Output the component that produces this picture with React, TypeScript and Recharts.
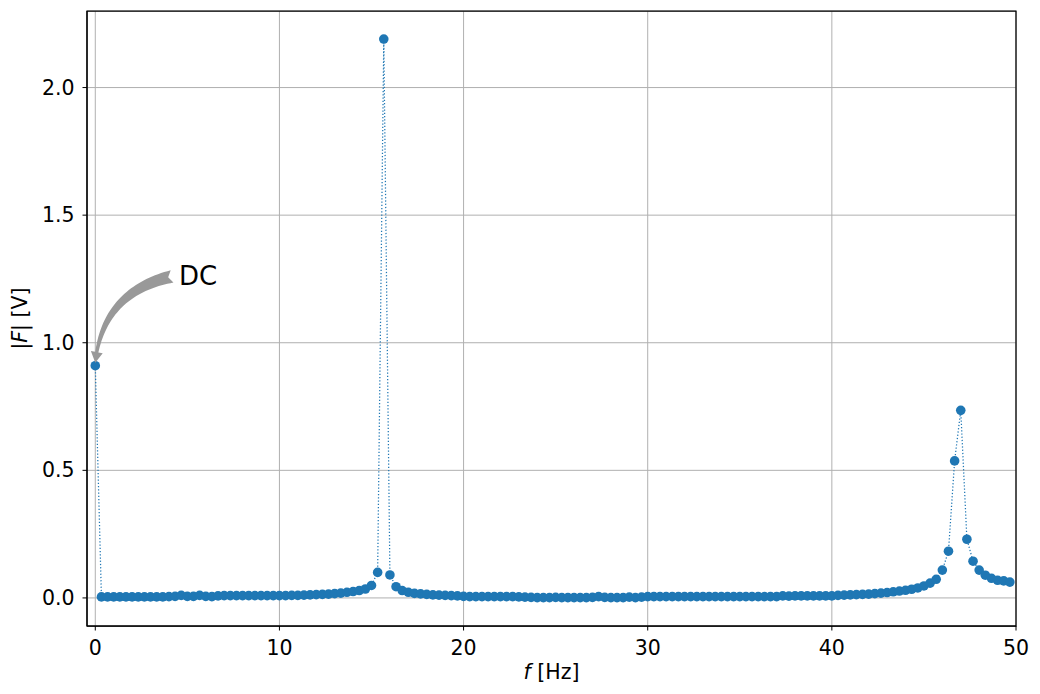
import { CartesianGrid, Line, LineChart, ReferenceArea, ReferenceDot, XAxis, YAxis } from "recharts";

// FFT magnitude spectrum, bins spaced 1/3 Hz (0 .. 49.67 Hz)
const BIN_HZ = 1 / 3;
const MAGNITUDE = [
  0.91, 0.004, 0.004, 0.004, 0.004, 0.004, 0.004, 0.004, 0.004, 0.004,
  0.004, 0.004, 0.005, 0.006, 0.01, 0.006, 0.006, 0.01, 0.006, 0.005,
  0.008, 0.009, 0.009, 0.009, 0.009, 0.009, 0.009, 0.009, 0.009, 0.009,
  0.009, 0.009, 0.01, 0.01, 0.011, 0.012, 0.013, 0.014, 0.015, 0.017,
  0.019, 0.022, 0.025, 0.029, 0.035, 0.049, 0.1, 2.19, 0.09, 0.044,
  0.029, 0.022, 0.018, 0.016, 0.014, 0.012, 0.011, 0.01, 0.009, 0.008,
  0.006, 0.005, 0.005, 0.005, 0.005, 0.005, 0.005, 0.005, 0.005, 0.004,
  0.003, 0.002, 0.001, 0.001, 0.001, 0.002, 0.001, 0.001, 0.001, 0.001,
  0.001, 0.002, 0.005, 0.002, 0.001, 0.001, 0.001, 0.003, 0.001, 0.003,
  0.005, 0.005, 0.005, 0.005, 0.005, 0.005, 0.005, 0.005, 0.005, 0.005,
  0.005, 0.005, 0.005, 0.005, 0.005, 0.005, 0.005, 0.005, 0.005, 0.005,
  0.005, 0.005, 0.008, 0.007, 0.008, 0.008, 0.008, 0.008, 0.008, 0.008,
  0.008, 0.01, 0.011, 0.012, 0.013, 0.014, 0.015, 0.017, 0.019, 0.021,
  0.024, 0.027, 0.03, 0.034, 0.039, 0.047, 0.058, 0.073, 0.109, 0.183,
  0.537, 0.735, 0.23, 0.144, 0.109, 0.089, 0.077, 0.069, 0.067, 0.062,
];
const X_TICKS = [0, 10, 20, 30, 40, 50];
const Y_TICKS = [0, 0.5, 1, 1.5, 2];
const X_DOMAIN = [-0.45, 50];
const Y_DOMAIN = [-0.11, 2.3];

// annotation: "DC" text position (data coords) pointing at the first bin
const DC_TEXT = { x: 4.55, y: 1.26, label: "DC" };

const data = MAGNITUDE.map((m, i) => ({ f: i * BIN_HZ, mag: m }));

const W = 1040;
const H = 694;
const MARGIN = { top: 11, right: 24, bottom: 0, left: 8 };
const Y_AXIS_W = 79;
const X_AXIS_H = 68;
const PLOT = {
  left: MARGIN.left + Y_AXIS_W,
  right: W - MARGIN.right,
  top: MARGIN.top,
  bottom: H - X_AXIS_H,
};
const BLUE = "#1f77b4";
const FONT = "'DejaVu Sans', sans-serif";
const TICK_FS = 20.5;

const px = (x: number) => PLOT.left + ((x - X_DOMAIN[0]) / (X_DOMAIN[1] - X_DOMAIN[0])) * (PLOT.right - PLOT.left);
const py = (y: number) => PLOT.bottom - ((y - Y_DOMAIN[0]) / (Y_DOMAIN[1] - Y_DOMAIN[0])) * (PLOT.bottom - PLOT.top);

function DcAnnotation() {
  const tx = px(DC_TEXT.x);
  const ty = py(DC_TEXT.y);
  const T = { x: tx - 7, y: ty };
  const dotX = px(data[0].f);
  const dotY = py(data[0].mag);
  const rad = 0.36;
  // curved (arc3-like) centre line
  const Hd = { x: dotX, y: dotY - 3 };
  const M = { x: (T.x + Hd.x) / 2, y: (T.y + Hd.y) / 2 };
  const d = { x: Hd.x - T.x, y: Hd.y - T.y };
  const C = { x: M.x - rad * d.y, y: M.y + rad * d.x };
  const pt = (t: number) => ({
    x: (1 - t) * (1 - t) * T.x + 2 * t * (1 - t) * C.x + t * t * Hd.x,
    y: (1 - t) * (1 - t) * T.y + 2 * t * (1 - t) * C.y + t * t * Hd.y,
  });
  const tan = (t: number) => {
    const x = 2 * (1 - t) * (C.x - T.x) + 2 * t * (Hd.x - C.x);
    const y = 2 * (1 - t) * (C.y - T.y) + 2 * t * (Hd.y - C.y);
    const l = Math.hypot(x, y);
    return { x: x / l, y: y / l };
  };
  const headLen = 11;
  const endSpeed = 2 * Math.hypot(Hd.x - C.x, Hd.y - C.y);
  const tb = 1 - headLen / endSpeed;
  const n = 40;
  const left: string[] = [];
  const right: string[] = [];
  for (let i = 0; i <= n; i++) {
    const t = (tb * i) / n;
    const p = pt(t);
    const g = tan(t);
    const hw = 6.3 - (6.3 - 1.6) * (i / n);
    left.push(`${p.x + g.y * hw},${p.y - g.x * hw}`);
    right.push(`${p.x - g.y * hw},${p.y + g.x * hw}`);
  }
  const base = pt(tb);
  const g = tan(tb);
  const headHw = 6;
  const wingL = `${base.x + g.y * headHw},${base.y - g.x * headHw}`;
  const wingR = `${base.x - g.y * headHw},${base.y + g.x * headHw}`;
  const g0 = tan(0);
  const notch = `${T.x + g0.x * 4},${T.y + g0.y * 4}`;
  const points = [...left, wingL, `${Hd.x},${Hd.y}`, wingR, ...right.reverse(), notch].join(" ");
  return (
    <g>
      <polygon points={points} fill="#999999" stroke="none" />
      <text x={tx} y={ty} dominantBaseline="central" fontSize={26} fontFamily={FONT} fill="#000">
        {DC_TEXT.label}
      </text>
    </g>
  );
}

function Dot(props: any) {
  const { cx, cy, index } = props;
  if (cx == null || cy == null) return null;
  return <circle key={`d${index}`} cx={cx} cy={cy} r={4.8} fill={BLUE} stroke="none" />;
}

function XTick(props: any) {
  const { x, y, payload } = props;
  return (
    <text x={x} y={y + 11} textAnchor="middle" dominantBaseline="central" fontSize={TICK_FS} fontFamily={FONT} fill="#000">
      {payload.value}
    </text>
  );
}

function YTick(props: any) {
  const { x, y, payload } = props;
  return (
    <text x={x} y={y} textAnchor="end" dominantBaseline="central" fontSize={TICK_FS} fontFamily={FONT} fill="#000">
      {Number(payload.value).toFixed(1)}
    </text>
  );
}

export default function App() {
  return (
    <div style={{ position: "absolute", left: 0, top: 0, width: W, height: H, background: "#fff" }}>
      <LineChart width={W} height={H} data={data} margin={MARGIN}>
        <CartesianGrid stroke="#b0b0b0" strokeWidth={1} />
        <XAxis
          dataKey="f"
          type="number"
          domain={X_DOMAIN}
          ticks={X_TICKS}
          allowDataOverflow
          height={X_AXIS_H}
          tickSize={4.5}
          tickMargin={6}
          stroke="#000"
          tick={<XTick />}
          label={{
            content: (p: any) => {
              const vb = p.viewBox;
              return (
                <text x={vb.x + vb.width / 2} y={672} textAnchor="middle" dominantBaseline="central" fontSize={TICK_FS} fontFamily={FONT} fill="#000">
                  <tspan fontStyle="italic">f</tspan>
                  <tspan> [Hz]</tspan>
                </text>
              );
            },
          }}
        />
        <YAxis
          type="number"
          domain={Y_DOMAIN}
          ticks={Y_TICKS}
          allowDataOverflow
          width={Y_AXIS_W}
          tickSize={4.5}
          tickMargin={8}
          stroke="#000"
          tick={<YTick />}
          label={{
            content: (p: any) => {
              const vb = p.viewBox;
              const cy = vb.y + vb.height / 2;
              return (
                <text x={20} y={cy} transform={`rotate(-90 20 ${cy})`} textAnchor="middle" dominantBaseline="central" fontSize={TICK_FS} fontFamily={FONT} fill="#000">
                  <tspan>|</tspan>
                  <tspan fontStyle="italic">F</tspan>
                  <tspan>| [V]</tspan>
                </text>
              );
            },
          }}
        />
        <ReferenceArea
          x1={X_DOMAIN[0]}
          x2={X_DOMAIN[1]}
          y1={Y_DOMAIN[0]}
          y2={Y_DOMAIN[1]}
          fill="none"
          stroke="#000"
          strokeWidth={1.25}
          ifOverflow="visible"
        />
        <Line
          dataKey="mag"
          type="linear"
          stroke={BLUE}
          strokeWidth={1.25}
          strokeDasharray="1.25 2"
          dot={<Dot />}
          activeDot={false}
          isAnimationActive={false}
        />
        <ReferenceDot x={DC_TEXT.x} y={DC_TEXT.y} ifOverflow="visible" shape={() => <DcAnnotation />} />
      </LineChart>
    </div>
  );
}
